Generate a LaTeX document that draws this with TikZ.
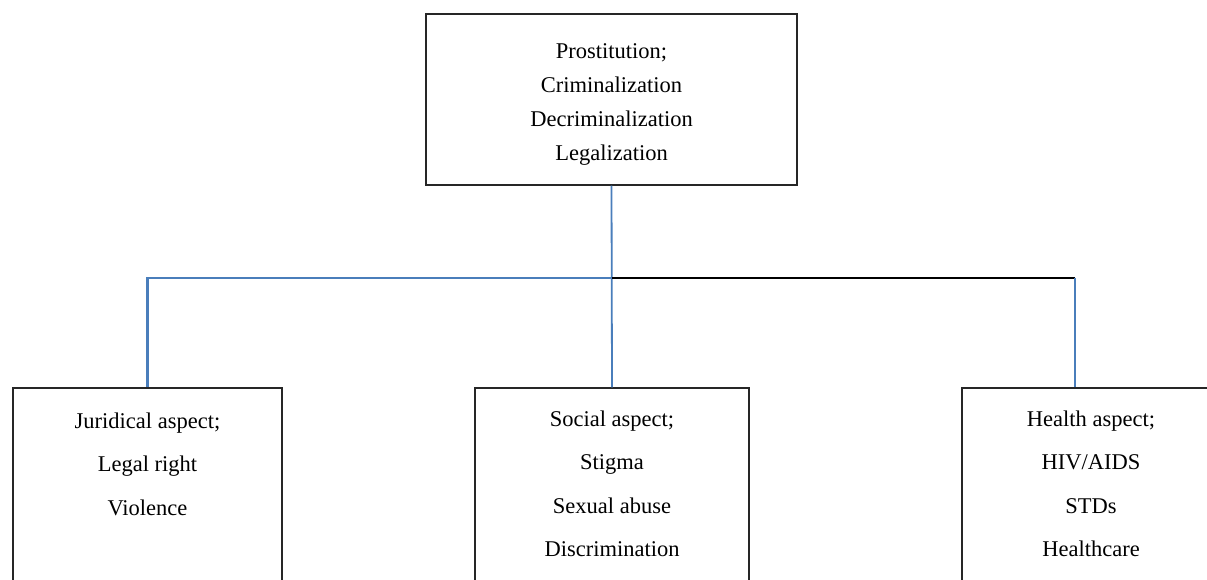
\documentclass[tikz,border=0pt]{standalone}
\usepackage{fontspec}
\setmainfont{Liberation Serif}
\usetikzlibrary{calc,positioning}
\definecolor{linkblue}{RGB}{74,126,187}
\begin{document}
\begin{tikzpicture}[x=1pt,y=-1pt,
  box/.style={draw=black!85,line width=1.2pt,inner sep=0pt},
  toptxt/.style={align=center,inner sep=0pt,font=\fontsize{22.5}{34}\selectfont},
  subtxt/.style={align=center,inner sep=0pt,font=\fontsize{22.5}{43.5}\selectfont},
  blueln/.style={draw=linkblue,line width=2pt},
  blackln/.style={draw=black,line width=2pt}]
\useasboundingbox (0,0) rectangle (1207,580);
\clip (0,0) rectangle (1207,580);

\node [box,minimum width=371pt,minimum height=171pt] (prost) at (611.5,99.5) {};
\node [toptxt,anchor=north] (prosttxt) at ($(prost.north)+(0,30)$)
  {Prostitution;\\Criminalization\\Decriminalization\\Legalization};

\node [box,minimum width=269pt,minimum height=232pt] (jurid) at (147.5,504) {};
\node [box,minimum width=274pt,minimum height=232pt] (social) at (612,504) {};
\node [box,minimum width=258pt,minimum height=232pt] (health) at (1091,504) {};

\node [subtxt,anchor=north] (juridtxt) at ($(jurid.north)+(0,25)$)
  {Juridical aspect;\\Legal right\\Violence};
\node [subtxt,anchor=north] (socialtxt) at ($(social.north)+(0,23)$)
  {Social aspect;\\Stigma\\Sexual abuse\\Discrimination};
\node [subtxt,anchor=north] (healthtxt) at ($(health.north)+(0,23)$)
  {Health aspect;\\HIV/AIDS\\STDs\\Healthcare};

\coordinate (hub) at ($(prost.south)+(0,92)$);
\coordinate (hltop) at ($(health.north)+(-16,0)$);

\draw [blueln,line width=1.8pt] (prost.south) -- (social.north);
\draw [blueln,line width=2.2pt] (hub) -| (jurid.north);
\draw [blackln] (hub) -- (hub -| hltop);
\draw [blueln,line width=2.6pt] (hub -| hltop) -- (hltop);
\end{tikzpicture}
\end{document}
